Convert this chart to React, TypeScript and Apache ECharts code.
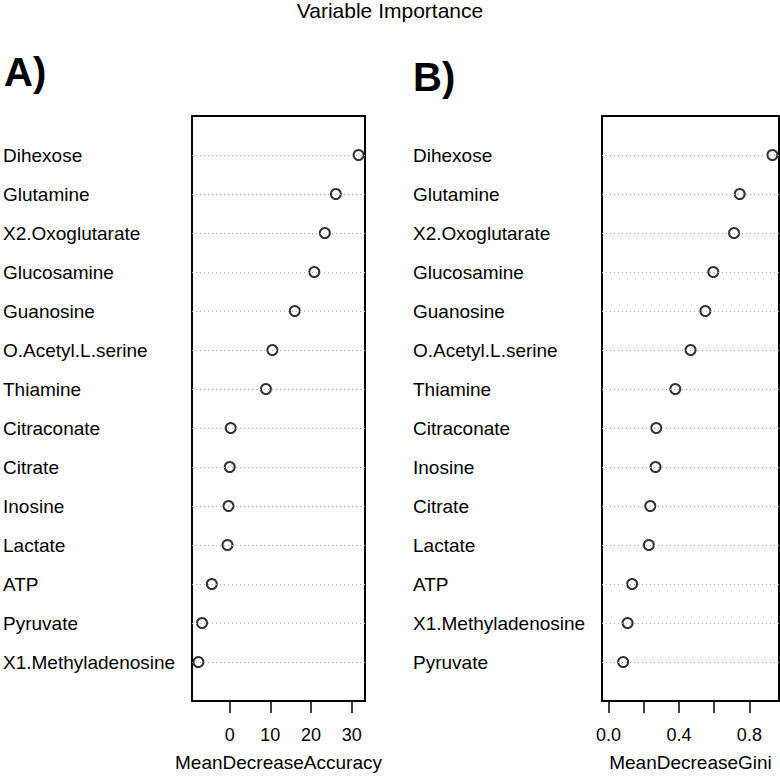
import React, { useEffect, useRef } from "react";
import * as echarts from "echarts";

const namesA = [
  "Dihexose", "Glutamine", "X2.Oxoglutarate", "Glucosamine", "Guanosine",
  "O.Acetyl.L.serine", "Thiamine", "Citraconate", "Citrate", "Inosine",
  "Lactate", "ATP", "Pyruvate", "X1.Methyladenosine",
];
const valuesA = [31.7, 26.1, 23.4, 20.8, 16.0, 10.5, 8.9, 0.25, 0.0, -0.3, -0.55, -4.4, -6.8, -7.7];

const namesB = [
  "Dihexose", "Glutamine", "X2.Oxoglutarate", "Glucosamine", "Guanosine",
  "O.Acetyl.L.serine", "Thiamine", "Citraconate", "Inosine", "Citrate",
  "Lactate", "ATP", "X1.Methyladenosine", "Pyruvate",
];
const valuesB = [0.931, 0.745, 0.713, 0.595, 0.55, 0.466, 0.379, 0.271, 0.267, 0.237, 0.229, 0.134, 0.108, 0.083];

const ticksA = [0, 10, 20, 30];
const tickLabelsA = [0, 10, 20, 30];
const ticksB = [0, 0.2, 0.4, 0.6, 0.8];
const tickLabelsB = [0, 0.4, 0.8];

const FONT = '"Liberation Sans", Arial, Helvetica, sans-serif';

function extend(lo: number, hi: number): [number, number] {
  const d = (hi - lo) * 0.04;
  return [lo - d, hi + d];
}

function panel(idx: number, names: string[], values: number[], xlim: [number, number],
  ticks: number[], tickLabels: number[], digits: number, title: string) {
  const n = names.length;
  const rows = names.map((_, i) => n - i);
  const xAxis = {
    gridIndex: idx,
    type: "value",
    min: xlim[0],
    max: xlim[1],
    axisLine: { show: false },
    splitLine: { show: false },
    axisTick: {
      show: true,
      inside: false,
      length: 12,
      customValues: ticks,
      lineStyle: { color: "#000", width: 1.5 },
    },
    axisLabel: {
      customValues: tickLabels,
      margin: 25,
      fontSize: 18,
      color: "#000",
      fontFamily: FONT,
      formatter: (v: number) => v.toFixed(digits),
    },
    name: title,
    nameLocation: "middle",
    nameGap: 52,
    nameTextStyle: { fontSize: 19, color: "#000", fontFamily: FONT },
  };
  const yAxis = {
    gridIndex: idx,
    type: "value",
    min: 0,
    max: n + 1,
    axisLine: { show: false },
    axisTick: { show: false },
    splitLine: { show: false },
    axisLabel: {
      customValues: rows,
      align: "left",
      margin: 189,
      fontSize: 19,
      color: "#000",
      fontFamily: FONT,
      formatter: (v: number) => names[n - Math.round(v)] ?? "",
    },
  };
  const series = {
    type: "scatter",
    xAxisIndex: idx,
    yAxisIndex: idx,
    data: values.map((v, i) => [v, n - i]),
    symbol: "circle",
    symbolSize: 10,
    itemStyle: { color: "rgba(0,0,0,0)", borderColor: "#000", borderWidth: 2 },
    markLine: {
      silent: true,
      symbol: ["none", "none"],
      label: { show: false },
      lineStyle: { type: [1, 3], color: "#b0b0b0", width: 1 },
      data: rows.map((y) => ({ yAxis: y })),
    },
  };
  return { xAxis, yAxis, series };
}

export default function App() {
  const ref = useRef<HTMLDivElement>(null);
  useEffect(() => {
    if (!ref.current) return;
    const chart = echarts.init(ref.current, null, { renderer: "svg" });
    const minA = Math.min(...valuesA);
    const maxA = Math.max(...valuesA);
    const maxB = Math.max(...valuesB);
    const a = panel(0, namesA, valuesA, extend(minA, maxA), ticksA, tickLabelsA, 0, "MeanDecreaseAccuracy");
    const b = panel(1, namesB, valuesB, extend(0, maxB), ticksB, tickLabelsB, 1, "MeanDecreaseGini");
    chart.setOption({
      animation: false,
      backgroundColor: "#fff",
      grid: [
        { left: 189, top: 116, width: 176, height: 590, show: true, borderColor: "#000", borderWidth: 2, backgroundColor: "transparent" },
        { left: 602, top: 116, width: 177, height: 590, show: true, borderColor: "#000", borderWidth: 2, backgroundColor: "transparent" },
      ],
      xAxis: [a.xAxis, b.xAxis],
      yAxis: [a.yAxis, b.yAxis],
      series: [a.series, b.series],
      graphic: [
        {
          type: "text",
          x: 390,
          y: 0,
          style: { text: "Variable Importance", fontSize: 21, fontFamily: FONT, fill: "#000", align: "center", verticalAlign: "top" },
        },
        {
          type: "text",
          x: 4,
          y: 72,
          style: { text: "A)", fontSize: 40, fontWeight: "bold", fontFamily: FONT, fill: "#000", align: "left", verticalAlign: "middle" },
        },
        {
          type: "text",
          x: 413,
          y: 77,
          style: { text: "B)", fontSize: 40, fontWeight: "bold", fontFamily: FONT, fill: "#000", align: "left", verticalAlign: "middle" },
        },
      ],
    });
    return () => chart.dispose();
  }, []);
  return <div ref={ref} style={{ position: "fixed", left: 0, top: 0, width: 780, height: 777 }} />;
}
